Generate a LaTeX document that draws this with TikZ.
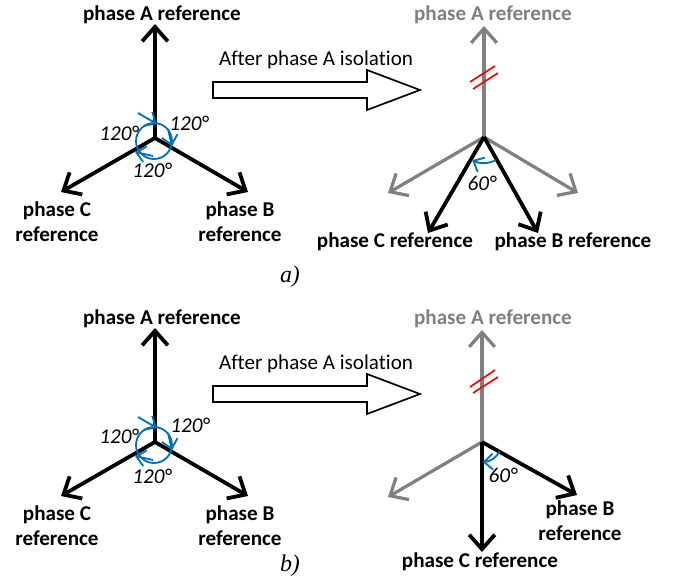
\documentclass[tikz,border=0pt]{standalone}
\usepackage{fontspec}
\setmainfont{Carlito}[Ligatures=NoCommon]
\newfontfamily\capfont{Liberation Serif}
\usetikzlibrary{arrows.meta}

\definecolor{arcblue}{RGB}{0,112,192}
\definecolor{oldgray}{RGB}{128,128,128}

\tikzset{
  phase/.style={black, line width=2.7pt, -{Straight Barb[length=3.6mm,width=6.4mm]}},
  oldphase/.style={phase, draw=oldgray, line width=2.3pt},
  lbl/.style={font=\bfseries\fontsize{15}{18}\selectfont, align=center, inner sep=0pt},
  oldlbl/.style={lbl, text=oldgray},
  deg/.style={font=\itshape\fontsize{15}{18}\selectfont, inner sep=0pt},
  turn/.style={draw=arcblue, line width=1.3pt},
  turnarrow/.style={turn, -{Straight Barb[length=2.2mm,width=4mm]}},
  hash/.style={red, line width=1.2pt},
  blockarrow/.style={draw=black, line width=1.2pt, fill=white},
  caption/.style={font=\capfont\itshape\fontsize{17}{20}\selectfont, inner sep=0pt}
}

\begin{document}
\begin{tikzpicture}[x=0.025cm, y=-0.025cm]
  \useasboundingbox (0,0) rectangle (679,580);

  % ---------------- a) ----------------
  % three phases before isolation
  \coordinate (Oa) at (155,138);
  \coordinate (Aa) at (155,24);
  \coordinate (Ba) at (248,192);
  \coordinate (Ca) at (61,192);
  \draw[phase] (Oa) -- (Aa);
  \draw[phase] (Oa) -- (Ba);
  \draw[phase] (Oa) -- (Ca);
  \node[lbl] (refAa) at (162,15) {phase A reference};
  \node[lbl] (refBa) at (240,222) {phase B\\reference};
  \node[lbl] (refCa) at (57,222) {phase C\\reference};

  % 120 degree turns
  \draw[turn] (154,141) circle (18);
  \draw[turnarrow] (138,113) -- (157,124);
  \draw[turnarrow] (168,129) -- (172,146);
  \draw[turnarrow] (153,156) -- (135,152);
  \node[deg] (degLa) at (119,133) {120°};
  \node[deg] (degRa) at (189,123) {120°};
  \node[deg] (degDa) at (152,170) {120°};

  % isolation step
  \node[font=\fontsize{15}{18}\selectfont, inner sep=0pt] (stepa) at (316,60) {After phase A isolation};
  \draw[blockarrow] (213,82) -- (367,82) -- (367,70) -- (420,90) -- (367,110) -- (367,98) -- (213,98) -- cycle;

  % after isolation
  \coordinate (Pa) at (484,137);
  \coordinate (GAa) at (484,26);
  \coordinate (GBa) at (578,193);
  \coordinate (GCa) at (388,193);
  \coordinate (NBa) at (538,233);
  \coordinate (NCa) at (428,233);
  \draw[oldphase] (Pa) -- (GAa);
  \draw[oldphase] (Pa) -- (GBa);
  \draw[oldphase] (Pa) -- (GCa);
  \draw[phase] (Pa) -- (NBa);
  \draw[phase] (Pa) -- (NCa);
  \draw[hash] (470,82) -- (495,66);
  \draw[hash] (473,89) -- (498,73);
  \draw[turnarrow] (Pa) ++(63:26) arc (63:117:26);
  \node[deg] (deg60a) at (482,183) {60°};
  \node[oldlbl] (oldAa) at (493,15) {phase A reference};
  \node[lbl] (newBa) at (573,242) {phase B reference};
  \node[lbl] (newCa) at (395,242) {phase C reference};
  \node[caption] (capa) at (290,277) {a)};

  % ---------------- b) ----------------
  % three phases before isolation
  \coordinate (Ob) at (155,442);
  \coordinate (Ab) at (155,328);
  \coordinate (Bb) at (248,496);
  \coordinate (Cb) at (61,496);
  \draw[phase] (Ob) -- (Ab);
  \draw[phase] (Ob) -- (Bb);
  \draw[phase] (Ob) -- (Cb);
  \node[lbl] (refAb) at (162,319) {phase A reference};
  \node[lbl] (refBb) at (240,526) {phase B\\reference};
  \node[lbl] (refCb) at (57,526) {phase C\\reference};

  % 120 degree turns
  \draw[turn] (154,445) circle (18);
  \draw[turnarrow] (138,417) -- (157,428);
  \draw[turnarrow] (168,433) -- (172,450);
  \draw[turnarrow] (153,460) -- (135,456);
  \node[deg] (degLb) at (119,436) {120°};
  \node[deg] (degRb) at (190,425) {120°};
  \node[deg] (degDb) at (152,476) {120°};

  % isolation step
  \node[font=\fontsize{15}{18}\selectfont, inner sep=0pt] (stepb) at (316,364) {After phase A isolation};
  \draw[blockarrow] (213,386) -- (367,386) -- (367,374) -- (420,394) -- (367,414) -- (367,402) -- (213,402) -- cycle;

  % after isolation
  \coordinate (Pb) at (482,442);
  \coordinate (GAb) at (482,330);
  \coordinate (GCb) at (388,497);
  \coordinate (NBb) at (577,495);
  \coordinate (NCb) at (482,552);
  \draw[oldphase] (Pb) -- (GAb);
  \draw[oldphase] (Pb) -- (GCb);
  \draw[phase] (Pb) -- (NBb);
  \draw[phase] (Pb) -- (NCb);
  \draw[hash] (470,387) -- (495,370);
  \draw[hash] (473,393) -- (498,377);
  \draw[turnarrow] (Pb) ++(28:20) arc (28:88:20);
  \node[deg] (deg60b) at (503,475) {60°};
  \node[oldlbl] (oldAb) at (493,319) {phase A reference};
  \node[lbl] (newBb) at (580,521) {phase B\\reference};
  \node[lbl] (newCb) at (480,562) {phase C reference};
  \node[caption] (capb) at (290,566) {b)};
\end{tikzpicture}
\end{document}
